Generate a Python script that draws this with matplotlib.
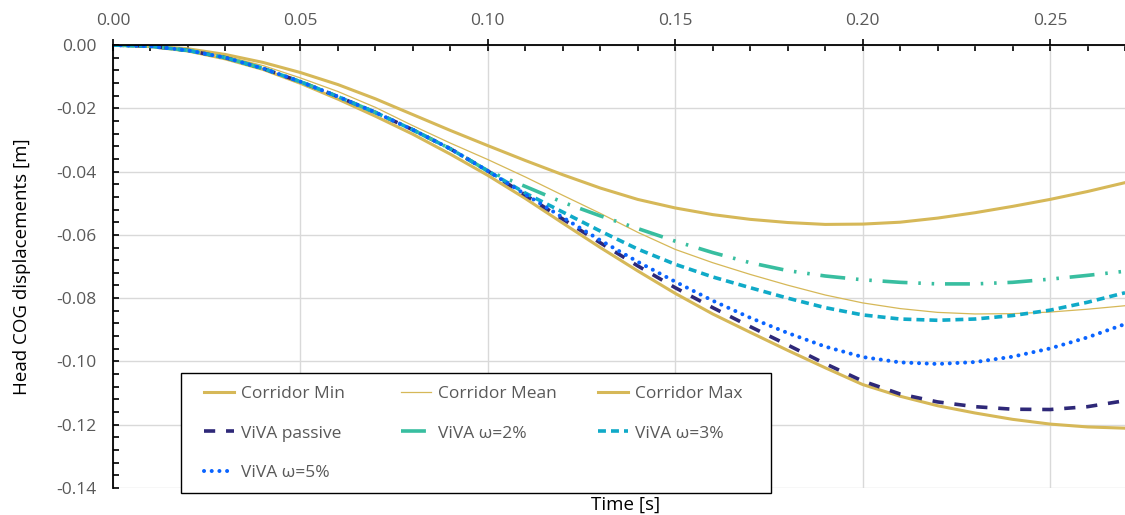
import matplotlib.pyplot as plt
from matplotlib.ticker import MultipleLocator, FormatStrFormatter
from matplotlib.patches import Rectangle

plt.rcParams['font.family'] = ['Open Sans', 'DejaVu Sans']
plt.rcParams['axes.unicode_minus'] = False

# Datos
time = [0.00, 0.01, 0.02, 0.03, 0.04, 0.05, 0.06, 0.07, 0.08, 0.09,
        0.10, 0.11, 0.12, 0.13, 0.14, 0.15, 0.16, 0.17, 0.18, 0.19,
        0.20, 0.21, 0.22, 0.23, 0.24, 0.25, 0.26, 0.27]

corridor_min = [0.0, -0.0005, -0.0019, -0.0044, -0.0077, -0.0121, -0.0171, -0.0225, -0.0282, -0.0345,
                -0.0412, -0.0485, -0.0563, -0.0640, -0.0714, -0.0785, -0.0850, -0.0908, -0.0965, -0.1020,
                -0.1073, -0.1110, -0.1140, -0.1163, -0.1183, -0.1198, -0.1207, -0.1211]
corridor_mean = [0.0, -0.0004, -0.0015, -0.0035, -0.0065, -0.0104, -0.0147, -0.0197, -0.0255, -0.0310,
                 -0.0362, -0.0417, -0.0475, -0.0532, -0.0592, -0.0646, -0.0688, -0.0725, -0.0759, -0.0790,
                 -0.0815, -0.0833, -0.0845, -0.0850, -0.0849, -0.0844, -0.0835, -0.0824]
corridor_max = [0.0, -0.0003, -0.0012, -0.0030, -0.0055, -0.0087, -0.0125, -0.0170, -0.0220, -0.0270,
                -0.0318, -0.0365, -0.0410, -0.0452, -0.0488, -0.0515, -0.0536, -0.0551, -0.0561, -0.0567,
                -0.0566, -0.0560, -0.0547, -0.0530, -0.0510, -0.0488, -0.0463, -0.0435]

viva_passive = [0.0, -0.0004, -0.0017, -0.0040, -0.0074, -0.0116, -0.0163, -0.0213, -0.0268, -0.0328,
                -0.0398, -0.0474, -0.0550, -0.0625, -0.0698, -0.0767, -0.0830, -0.0890, -0.0948, -0.1007,
                -0.1062, -0.1103, -0.1128, -0.1143, -0.1151, -0.1152, -0.1143, -0.1124]
viva_w2 = [0.0, -0.0004, -0.0017, -0.0040, -0.0074, -0.0116, -0.0163, -0.0213, -0.0268, -0.0328,
           -0.0398, -0.0447, -0.0497, -0.0540, -0.0580, -0.0620, -0.0656, -0.0688, -0.0713, -0.0730,
           -0.0742, -0.0750, -0.0755, -0.0755, -0.0750, -0.0740, -0.0728, -0.0715]
viva_w3 = [0.0, -0.0004, -0.0017, -0.0040, -0.0074, -0.0116, -0.0163, -0.0213, -0.0268, -0.0328,
           -0.0398, -0.0468, -0.0528, -0.0588, -0.0645, -0.0693, -0.0733, -0.0767, -0.0800, -0.0830,
           -0.0853, -0.0866, -0.0870, -0.0866, -0.0855, -0.0838, -0.0813, -0.0783]
viva_w5 = [0.0, -0.0004, -0.0017, -0.0040, -0.0074, -0.0116, -0.0163, -0.0213, -0.0268, -0.0328,
           -0.0398, -0.0472, -0.0545, -0.0617, -0.0685, -0.0748, -0.0808, -0.0862, -0.0910, -0.0953,
           -0.0986, -0.1003, -0.1008, -0.1002, -0.0985, -0.0959, -0.0924, -0.0882]

W, H = 1125, 515
fig = plt.figure(figsize=(W / 100, H / 100), dpi=100)
ax = fig.add_axes([113 / W, 1 - 488 / H, 1 - 113 / W, (488 - 45) / H])

gold = '#D6B858'
h_min, = ax.plot(time, corridor_min, color=gold, lw=2.2, label='Corridor Min')
h_mean, = ax.plot(time, corridor_mean, color=gold, lw=0.9, label='Corridor Mean')
h_max, = ax.plot(time, corridor_max, color=gold, lw=2.2, label='Corridor Max')
h_pas, = ax.plot(time, viva_passive, color='#2E2878', lw=2.6, ls=(0, (3.1, 3.0)),
                 dash_capstyle='butt', label='ViVA passive')
h_2, = ax.plot(time, viva_w2, color='#38BEA0', lw=2.6, ls=(0, (6.9, 3.0, 0.7, 3.0, 0.7, 3.0)),
               dash_capstyle='butt', label='ViVA ω=2%')
h_3, = ax.plot(time, viva_w3, color='#10AAC8', lw=2.6, ls=(0, (2.2, 1.4)),
               dash_capstyle='butt', label='ViVA ω=3%')
h_5, = ax.plot(time, viva_w5, color='#0A64FF', lw=2.9, ls=(0, (0.01, 1.9)),
               dash_capstyle='round', label='ViVA ω=5%')

ax.set_xlim(0, 0.27)
ax.set_ylim(-0.14, 0)
ax.xaxis.tick_top()
ax.xaxis.set_major_locator(MultipleLocator(0.05))
ax.xaxis.set_minor_locator(MultipleLocator(0.01))
ax.yaxis.set_major_locator(MultipleLocator(0.02))
ax.yaxis.set_minor_locator(MultipleLocator(0.004))
ax.xaxis.set_major_formatter(FormatStrFormatter('%.2f'))
ax.yaxis.set_major_formatter(FormatStrFormatter('%.2f'))
ax.tick_params(axis='x', which='major', direction='inout', length=9, width=1.2,
               pad=7, labelsize=12.5, labelcolor='#595959')
ax.tick_params(axis='x', which='minor', direction='in', length=4, width=1.2)
ax.tick_params(axis='y', which='major', direction='in', length=4.5, width=1.2,
               pad=12, labelsize=12.5, labelcolor='#595959')
ax.tick_params(axis='y', which='minor', direction='in', length=4, width=1.2)

ax.grid(True, which='major', color='#D9D9D9', lw=1.0)
ax.set_axisbelow(True)
for s in ['right', 'bottom']:
    ax.spines[s].set_visible(False)
for s in ['left', 'top']:
    ax.spines[s].set_linewidth(1.3)
    ax.spines[s].set_color('black')

fig.text(22 / W, 1 - 266.5 / H, 'Head COG displacements [m]', rotation=90,
         ha='center', va='center', fontsize=13.5)
fig.text(626 / W, 1 - 505 / H, 'Time [s]', ha='center', va='center', fontsize=13.5)

# Caja de la leyenda
ax.add_patch(Rectangle((181 / W, 1 - 493 / H), 590 / W, 120 / H, transform=fig.transFigure,
                       facecolor='white', edgecolor='black', lw=1.0, clip_on=False, zorder=5))

columnas = [[h_min, h_pas, h_5], [h_mean, h_2], [h_max, h_3]]
x_cols = [204, 401, 598]
for hs, x in zip(columnas, x_cols):
    fig.legend(handles=hs, loc='upper left', bbox_to_anchor=(x / W, 1 - 386 / H),
               frameon=False, borderpad=0, borderaxespad=0, handlelength=1.75,
               handletextpad=0.4, labelspacing=1.34, fontsize=12.5, labelcolor='#595959')

fig.savefig('out.png', dpi=100)
